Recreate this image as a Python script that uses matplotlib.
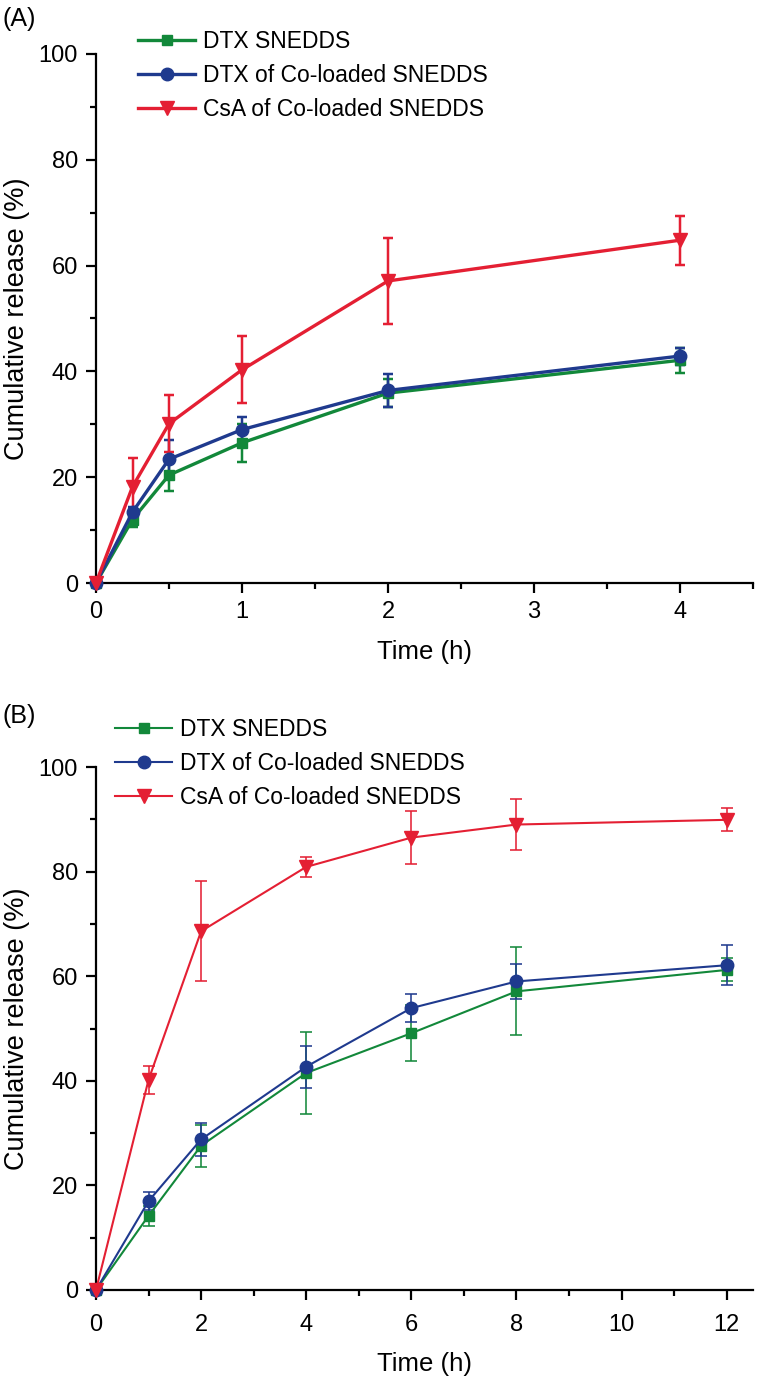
import matplotlib
matplotlib.use("Agg")
import matplotlib.pyplot as plt
from matplotlib.ticker import MultipleLocator

plt.rcParams['font.family'] = ['Liberation Sans', 'DejaVu Sans']

# ---- Data: panel A ----
time_a = [0, 0.25, 0.5, 1, 2, 4]
dtx_a = [0, 12.0, 20.4, 26.5, 35.9, 42.1]
dtx_a_err = [0, 1.5, 3.0, 3.6, 2.6, 2.4]
dtxco_a = [0, 13.4, 23.4, 29.0, 36.4, 42.9]
dtxco_a_err = [0, 1.0, 3.6, 2.4, 3.1, 1.6]
csa_a = [0, 18.2, 30.1, 40.3, 57.1, 64.8]
csa_a_err = [0, 5.5, 5.4, 6.3, 8.2, 4.6]

# ---- Data: panel B ----
time_b = [0, 1, 2, 4, 6, 8, 12]
dtx_b = [0, 14.2, 27.6, 41.5, 49.1, 57.1, 61.2]
dtx_b_err = [0, 1.9, 4.0, 7.9, 5.3, 8.4, 2.2]
dtxco_b = [0, 17.0, 28.8, 42.7, 53.9, 59.0, 62.1]
dtxco_b_err = [0, 1.7, 3.1, 4.0, 2.7, 3.3, 3.8]
csa_b = [0, 40.2, 68.6, 80.9, 86.5, 89.0, 89.9]
csa_b_err = [0, 2.7, 9.6, 1.9, 5.0, 4.8, 2.2]

labels = ["DTX SNEDDS", "DTX of Co-loaded SNEDDS", "CsA of Co-loaded SNEDDS"]
colors = ["#12883a", "#1f3a8e", "#e41f33"]
markers = ["s", "o", "v"]

W, H = 760, 1388
fig = plt.figure(figsize=(W / 100, H / 100), dpi=100)


def px_axes(left, top, right, bottom):
    return fig.add_axes([left / W, 1 - bottom / H, (right - left) / W, (bottom - top) / H])


def panel(ax, t, series, errs, lw, ms, capsize, xmax, xmajor, xminor, leg_anchor, tpad):
    handles = []
    for y, e, c, m in zip(series, errs, colors, markers):
        msz = ms * (0.85 if m == "s" else (1.15 if m == "v" else 1.0))
        h = ax.errorbar(t, y, yerr=e, color=c, marker=m, markersize=msz, linewidth=lw,
                        elinewidth=lw * 0.75, capsize=capsize, capthick=lw * 0.75,
                        markeredgecolor=c, clip_on=False, zorder=3)
        handles.append(h)
    ax.set_xlim(0, xmax)
    ax.set_ylim(0, 100)
    ax.xaxis.set_major_locator(MultipleLocator(xmajor))
    ax.xaxis.set_minor_locator(MultipleLocator(xminor))
    ax.yaxis.set_major_locator(MultipleLocator(20))
    ax.yaxis.set_minor_locator(MultipleLocator(10))
    for s in ["top", "right"]:
        ax.spines[s].set_visible(False)
    for s in ["left", "bottom"]:
        ax.spines[s].set_linewidth(1.6)
    ax.tick_params(which="major", direction="out", length=7, width=1.6, labelsize=17, pad=6)
    ax.tick_params(axis="x", which="major", pad=tpad)
    ax.tick_params(which="minor", direction="out", length=4, width=1.6)
    ax.set_xlabel("Time (h)", fontsize=18.5, labelpad=12)
    ax.set_ylabel("Cumulative release (%)", fontsize=19.5, labelpad=6)
    leg = ax.legend([h[0] for h in handles], labels, loc="upper left",
                    bbox_to_anchor=leg_anchor, bbox_transform=fig.transFigure,
                    frameon=False, fontsize=16.5, handlelength=2.5, handletextpad=0.35,
                    labelspacing=0.48, borderaxespad=0, borderpad=0)
    return leg


axA = px_axes(96, 54, 753, 583)
panel(axA, time_a, [dtx_a, dtxco_a, csa_a], [dtx_a_err, dtxco_a_err, csa_a_err],
      lw=2.4, ms=9, capsize=3.6, xmax=4.5, xmajor=1, xminor=0.5,
      leg_anchor=(138 / W, 1 - 30 / H), tpad=6)

axB = px_axes(96, 767, 753, 1290)
panel(axB, time_b, [dtx_b, dtxco_b, csa_b], [dtx_b_err, dtxco_b_err, csa_b_err],
      lw=1.5, ms=9, capsize=4, xmax=12.5, xmajor=2, xminor=1,
      leg_anchor=(115 / W, 1 - 718 / H), tpad=10)

fig.text(3 / W, 1 - 19 / H, "(A)", fontsize=18, va="center", ha="left")
fig.text(3 / W, 1 - 716 / H, "(B)", fontsize=18, va="center", ha="left")

fig.savefig("out.png", dpi=100)
